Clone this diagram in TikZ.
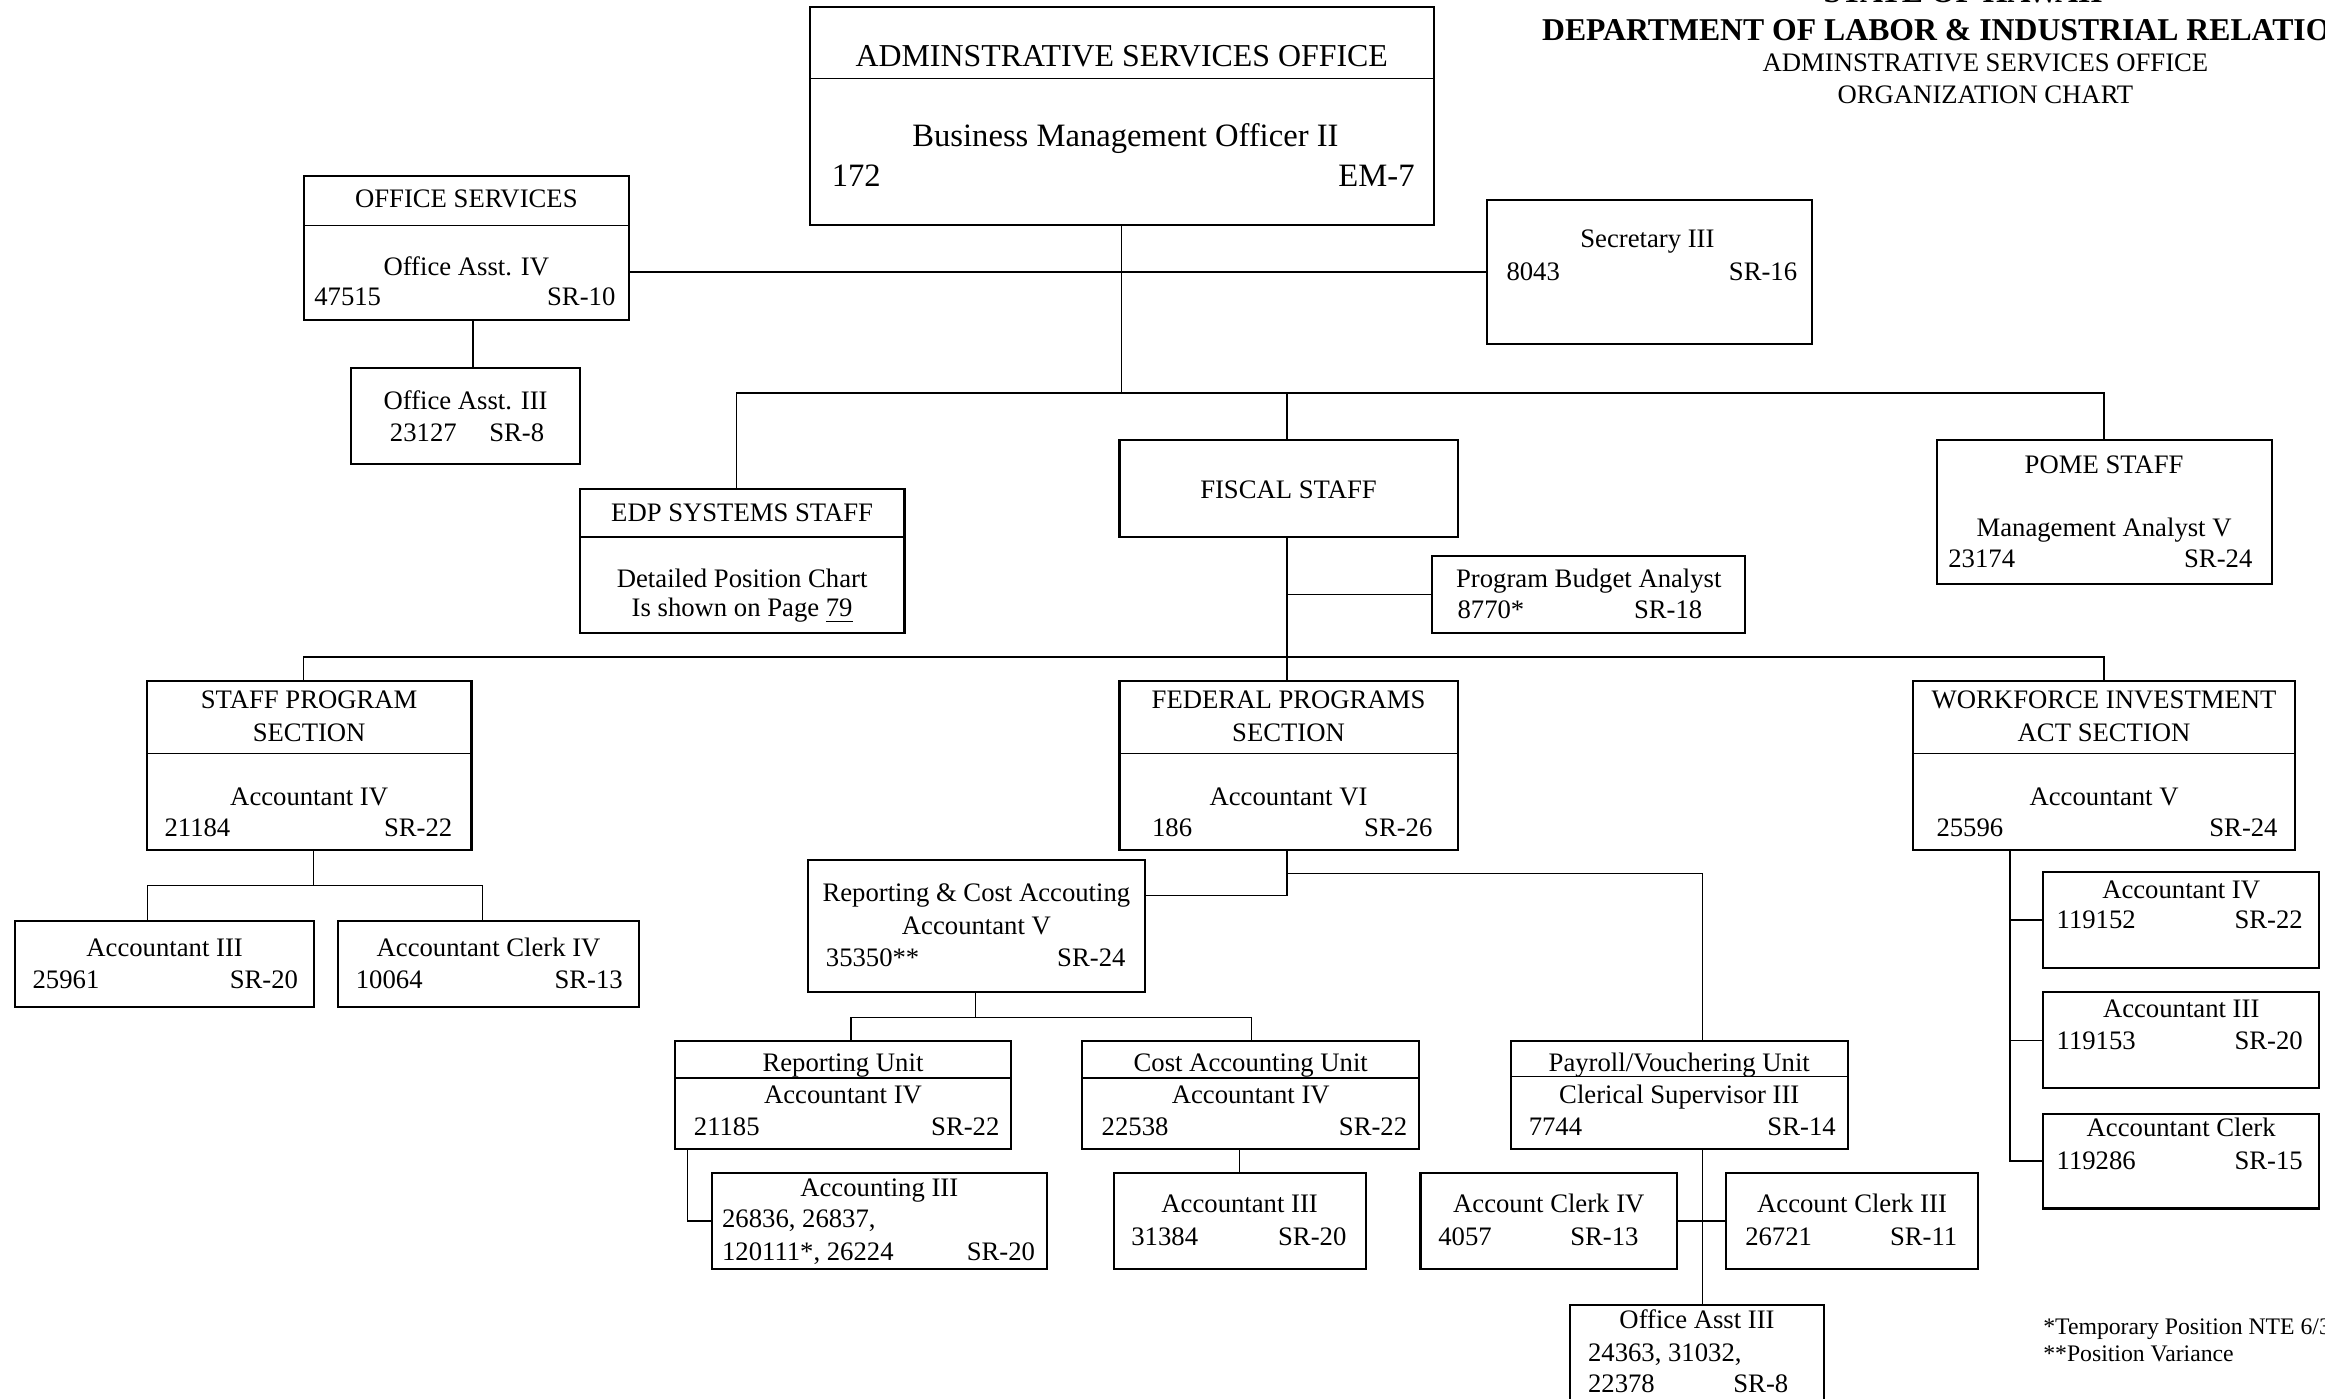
\documentclass[tikz,border=0pt]{standalone}
\usepackage{fontspec}
\setmainfont{Liberation Serif}
% box from corner (x1,y1) to (x2,y2), in chart units
\newcommand\orgrect[5]{%
  \node[orgbox, minimum width={(#4-#2)*0.5pt}, minimum height={(#5-#3)*0.5pt}]
    (#1) at ({(#2+#4)/2},{(#3+#5)/2}) {};}
% horizontal divider inside a box at height y
\newcommand\divider[2]{\draw[sep] (#1.west |- 0,#2) -- (#1.east |- 0,#2);}
\begin{document}
\begin{tikzpicture}[x=0.5pt, y=-0.5pt,
  orgbox/.style={draw, line width=0.7pt, rectangle, inner sep=0pt, outer sep=0pt},
  link/.style={line width=0.45pt},
  sep/.style={line width=0.5pt},
  lbl/.style={inner sep=0pt, outer sep=0pt, font=\fontsize{9}{11}\selectfont},
  ctr/.style={lbl, anchor=base},
  lft/.style={lbl, anchor=base west},
  rgt/.style={lbl, anchor=base east},
  bigttl/.style={font=\fontsize{10.75}{13}\selectfont},
  bigtxt/.style={font=\fontsize{11}{13}\selectfont},
  hdr/.style={inner sep=0pt, outer sep=0pt, font=\fontsize{10.7}{13}\selectfont\bfseries},
  sub/.style={inner sep=0pt, outer sep=0pt, font=\fontsize{9}{11}\selectfont},
  note/.style={inner sep=0pt, outer sep=0pt, anchor=base west, font=\fontsize{8}{10}\selectfont}
]
\useasboundingbox (0,0) rectangle (1568,943);
\clip (0,0) rectangle (1568,943);
\fill[white] (0,0) rectangle (1568,943);

% ---------- heading ----------
\node[hdr, anchor=base] (hState) at (1324,2) {STATE OF HAWAII};
\node[hdr, anchor=base west] (hDept) at (1040,27.5) {DEPARTMENT OF LABOR \& INDUSTRIAL RELATIONS};
\node[sub, anchor=base] (hOffice) at (1339,48) {ADMINSTRATIVE SERVICES OFFICE};
\node[sub, anchor=base] (hChart) at (1339,70) {ORGANIZATION CHART};

% ---------- boxes ----------
\orgrect{aso}{546}{5}{967}{152}
\orgrect{offsvc}{205}{119}{424}{216}
\orgrect{oaiii}{237}{248}{391}{313}
\orgrect{secy}{1003}{135}{1222}{232}
\orgrect{edp}{391}{330}{610}{427}
\orgrect{fiscal}{755}{297}{983}{362}
\orgrect{pba}{966}{375}{1177}{427}
\orgrect{pome}{1306}{297}{1532}{394}
\orgrect{staff}{99}{459}{318}{573}
\orgrect{fed}{755}{459}{983}{573}
\orgrect{wia}{1290}{459}{1548}{573}
\orgrect{sacc}{10}{621}{212}{679}
\orgrect{sclerk}{228}{621}{431}{679}
\orgrect{rc}{545}{580}{772}{669}
\orgrect{repu}{455}{702}{682}{775}
\orgrect{costu}{730}{702}{957}{775}
\orgrect{payu}{1019}{702}{1246}{775}
\orgrect{accr}{480}{791}{706}{856}
\orgrect{accc}{751}{791}{921}{856}
\orgrect{ackiv}{958}{791}{1131}{856}
\orgrect{ackiii}{1164}{791}{1334}{856}
\orgrect{oap}{1059}{880}{1230}{965}
\orgrect{wa}{1378}{588}{1564}{653}
\orgrect{wb}{1378}{669}{1564}{734}
\orgrect{wc}{1378}{751}{1564}{815}

% ---------- dividers ----------
\divider{aso}{53}
\divider{offsvc}{152}
\divider{edp}{362}
\divider{staff}{508}
\divider{fed}{508}
\divider{wia}{508}
\divider{repu}{727}
\divider{costu}{727}
\divider{payu}{726}

% ---------- texts ----------
\node[ctr, bigttl] (asoT) at (756.5,45) {ADMINSTRATIVE SERVICES OFFICE};
\node[ctr, bigtxt] (asoP) at (759,99) {Business Management Officer II};
\node[lft, bigtxt] (asoN) at (561,126) {172};
\node[rgt, bigtxt] (asoG) at (954,126) {EM-7};

\node[ctr] (offsvcT) at (314.5,140) {OFFICE SERVICES};
\node[ctr] (offsvcP) at (314.5,185.5) {Office Asst. IV};
\node[lft] (offsvcN) at (212,206) {47515};
\node[rgt] (offsvcG) at (415,206) {SR-10};

\node[ctr] (oaiiiP) at (314,276.5) {Office Asst. III};
\node[lft] (oaiiiN) at (263,298) {23127};
\node[lft] (oaiiiG) at (330,298) {SR-8};

\node[ctr] (secyP) at (1111,167) {Secretary III};
\node[lft] (secyN) at (1016,189) {8043};
\node[rgt] (secyG) at (1212,189) {SR-16};

\node[ctr] (edpT) at (500.5,352) {EDP SYSTEMS STAFF};
\node[ctr] (edpA) at (500.5,396) {Detailed Position Chart};
\node[ctr] (edpB) at (500.5,416) {Is shown on Page \underline{79}};

\node[ctr] (fiscalT) at (869,336) {FISCAL STAFF};

\node[ctr] (pbaP) at (1071.5,396) {Program Budget Analyst};
\node[lft] (pbaN) at (983,417) {8770*};
\node[rgt] (pbaG) at (1148,417) {SR-18};

\node[ctr] (pomeT) at (1419,319) {POME STAFF};
\node[ctr] (pomeP) at (1419,362) {Management Analyst V};
\node[lft] (pomeN) at (1314,383) {23174};
\node[rgt] (pomeG) at (1519,383) {SR-24};

\node[ctr] (staffT) at (208.5,478) {STAFF PROGRAM};
\node[ctr] (staffU) at (208.5,500) {SECTION};
\node[ctr] (staffP) at (208.5,543) {Accountant IV};
\node[lft] (staffN) at (111,564) {21184};
\node[rgt] (staffG) at (305,564) {SR-22};

\node[ctr] (fedT) at (869,478) {FEDERAL PROGRAMS};
\node[ctr] (fedU) at (869,500) {SECTION};
\node[ctr] (fedP) at (869,543) {Accountant VI};
\node[lft] (fedN) at (777,564) {186};
\node[rgt] (fedG) at (966,564) {SR-26};

\node[ctr] (wiaT) at (1419,478) {WORKFORCE INVESTMENT};
\node[ctr] (wiaU) at (1419,500) {ACT SECTION};
\node[ctr] (wiaP) at (1419,543) {Accountant V};
\node[lft] (wiaN) at (1306,564) {25596};
\node[rgt] (wiaG) at (1536,564) {SR-24};

\node[ctr] (saccP) at (111,645) {Accountant III};
\node[lft] (saccN) at (22,666.5) {25961};
\node[rgt] (saccG) at (201,666.5) {SR-20};

\node[ctr] (sclerkP) at (329.5,645) {Accountant Clerk IV};
\node[lft] (sclerkN) at (240,666.5) {10064};
\node[rgt] (sclerkG) at (420,666.5) {SR-13};

\node[ctr] (rcT) at (658.5,608) {Reporting \& Cost Accouting};
\node[ctr] (rcP) at (658.5,630) {Accountant V};
\node[lft] (rcN) at (557,652) {35350**};
\node[rgt] (rcG) at (759,652) {SR-24};

\node[ctr] (repuT) at (568.5,722.5) {Reporting Unit};
\node[ctr] (repuP) at (568.5,744) {Accountant IV};
\node[lft] (repuN) at (468,765.5) {21185};
\node[rgt] (repuG) at (674,765.5) {SR-22};

\node[ctr] (costuT) at (843.5,722.5) {Cost Accounting Unit};
\node[ctr] (costuP) at (843.5,744) {Accountant IV};
\node[lft] (costuN) at (743,765.5) {22538};
\node[rgt] (costuG) at (949,765.5) {SR-22};

\node[ctr] (payuT) at (1132.5,722.5) {Payroll/Vouchering Unit};
\node[ctr] (payuP) at (1132.5,744) {Clerical Supervisor III};
\node[lft] (payuN) at (1031,765.5) {7744};
\node[rgt] (payuG) at (1238,765.5) {SR-14};

\node[ctr] (accrP) at (593,807) {Accounting III};
\node[lft] (accrA) at (487,828) {26836, 26837,};
\node[lft] (accrB) at (487,850) {120111*, 26224};
\node[rgt] (accrG) at (698,850) {SR-20};

\node[ctr] (acccP) at (836,818) {Accountant III};
\node[lft] (acccN) at (763,840) {31384};
\node[rgt] (acccG) at (908,840) {SR-20};

\node[ctr] (ackivP) at (1044.5,818) {Account Clerk IV};
\node[lft] (ackivN) at (970,840) {4057};
\node[rgt] (ackivG) at (1105,840) {SR-13};

\node[ctr] (ackiiiP) at (1249,818) {Account Clerk III};
\node[lft] (ackiiiN) at (1177,840) {26721};
\node[rgt] (ackiiiG) at (1320,840) {SR-11};

\node[ctr] (oapP) at (1144.5,896) {Office Asst III};
\node[lft] (oapA) at (1071,918) {24363, 31032,};
\node[lft] (oapB) at (1071,939) {22378};
\node[rgt] (oapG) at (1206,939) {SR-8};

\node[ctr] (waP) at (1471,606) {Accountant IV};
\node[lft] (waN) at (1387,626) {119152};
\node[rgt] (waG) at (1553,626) {SR-22};

\node[ctr] (wbP) at (1471,686) {Accountant III};
\node[lft] (wbN) at (1387,707.5) {119153};
\node[rgt] (wbG) at (1553,707.5) {SR-20};

\node[ctr] (wcP) at (1471,766.5) {Accountant Clerk};
\node[lft] (wcN) at (1387,788.5) {119286};
\node[rgt] (wcG) at (1553,788.5) {SR-15};

\node[note] (noteA) at (1378,900) {*Temporary Position NTE 6/30};
\node[note] (noteB) at (1378,918) {**Position Variance};

% ---------- connectors ----------
\coordinate (busTop) at (756.5,265);
\coordinate (busMid) at (868,443);
\draw[link] (aso.south) -- (busTop);
\draw[link] (secy.west) -- (secy.west -| offsvc.east);
\draw[link] (offsvc.south -| 319,0) -- (oaiii.north -| 319,0);

% first level staff bus
\draw[link] ([xshift=-2pt]edp.north) -- ([xshift=-2pt]edp.north |- busTop)
  -- (pome.north |- busTop) -- (pome.north);
\draw[link] (fiscal.north -| 868,0) -- (busTop -| 868,0);

% fiscal staff down to the section bus
\draw[link] (fiscal.south -| busMid) -- (busMid);
\draw[link] (pba.west) -- (pba.west -| busMid);
\draw[link] ([xshift=-2pt]staff.north) -- ([xshift=-2pt]staff.north |- busMid)
  -- (wia.north |- busMid) -- (wia.north);
\draw[link] (busMid) -- (fed.north -| busMid);

% staff program section
\coordinate (staffBus) at (211.5,597);
\draw[link] (staff.south -| staffBus) -- (staffBus);
\draw[link] (sacc.north -| 99.5,0) |- (staffBus) -| (sclerk.north -| 325.5,0);

% federal programs section
\coordinate (fedJoin) at (868,589);
\draw[link] (fed.south -| fedJoin) -- (868,604) -- (rc.east |- 0,604);
\draw[link] (fedJoin) -| (payu.north -| 1148,0);
\coordinate (rcBus) at (658,686);
\draw[link] (rc.south -| rcBus) -- (rcBus);
\draw[link] (repu.north -| 574,0) |- (rcBus) -| (costu.north -| 844,0);
\draw[link] (repu.south -| 463.5,0) |- (accr.west);
\draw[link] (costu.south -| 836,0) -- (accc.north -| 836,0);
\draw[link] (payu.south -| 1148,0) -- (oap.north -| 1148,0);
\draw[link] (ackiv.east) -- (ackiii.west);

% workforce investment act section
\draw[link] (wia.south -| 1355.5,0) |- (wc.west);
\draw[link] (wa.west) -- (wa.west -| 1355.5,0);
\draw[link] (wb.west) -- (wb.west -| 1355.5,0);
\end{tikzpicture}
\end{document}
